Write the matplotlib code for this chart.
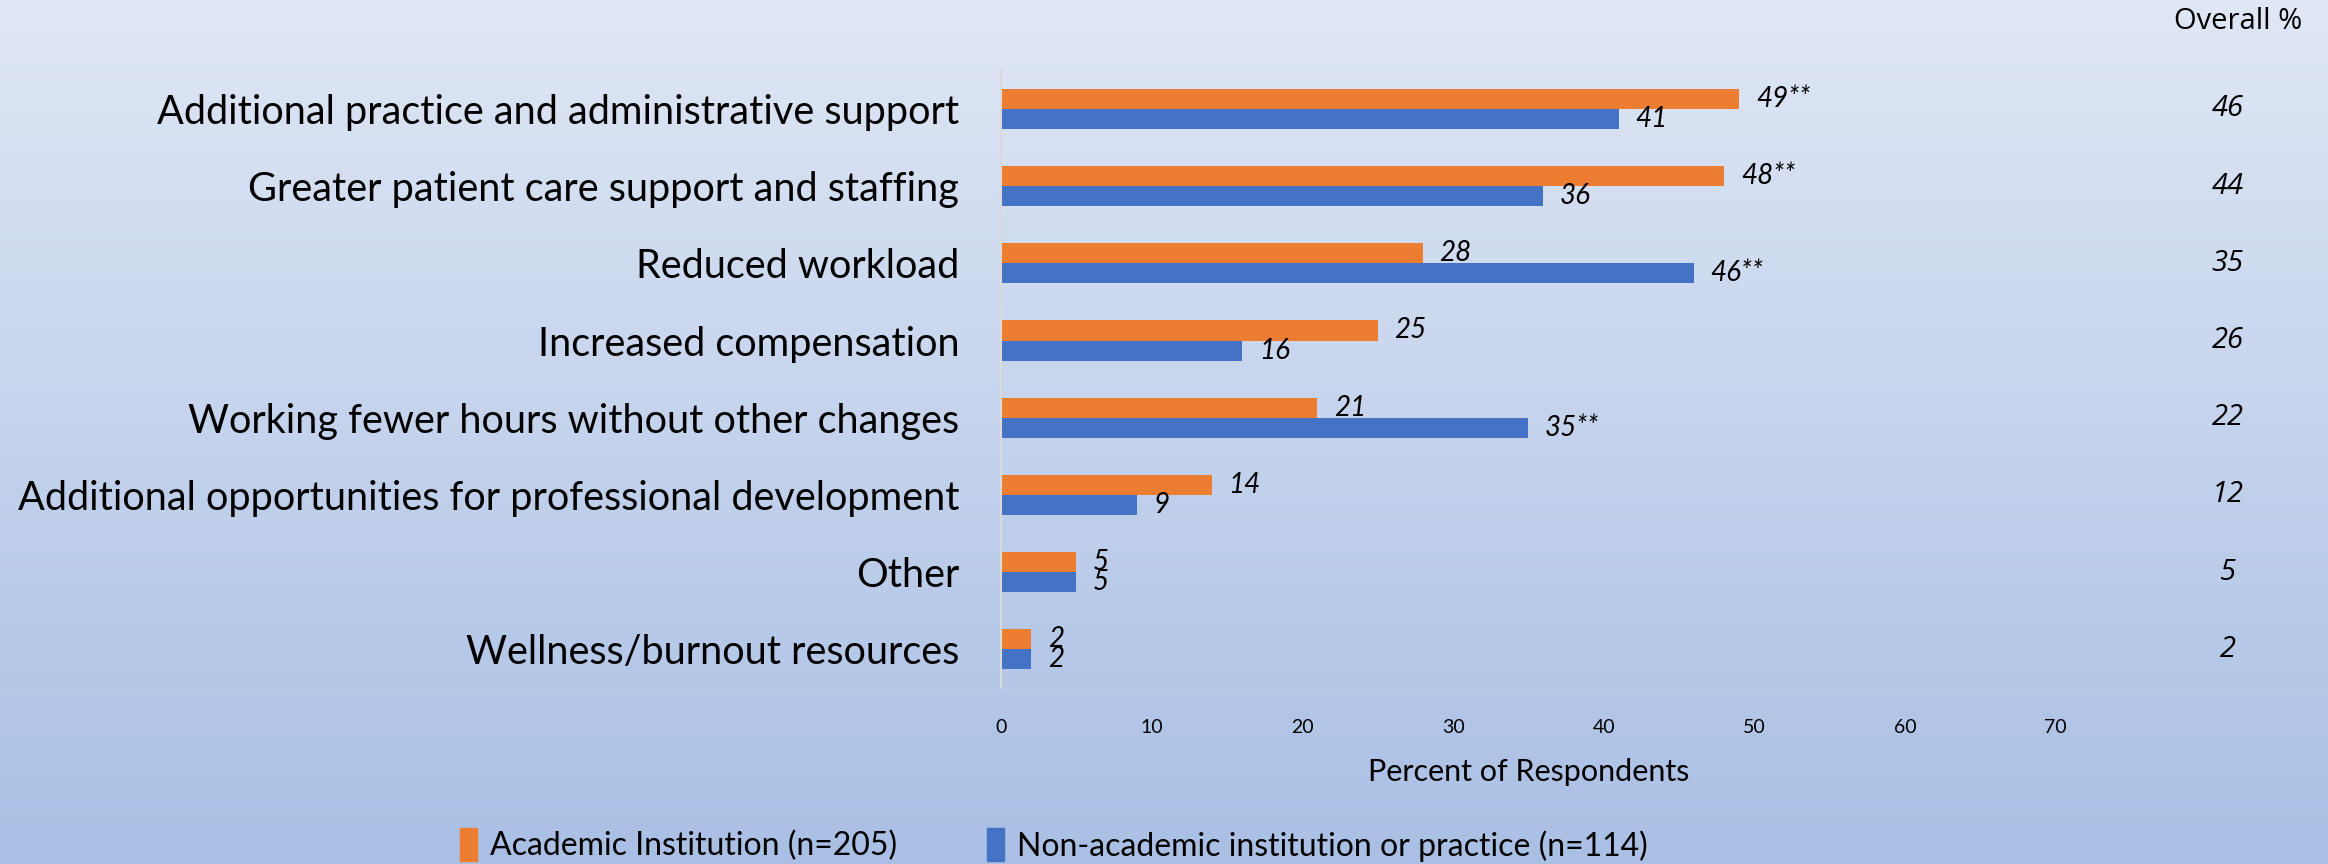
import numpy as np
import matplotlib
matplotlib.use("Agg")
from matplotlib import pyplot as plt
from matplotlib.patches import Patch

categories = [
    "Additional practice and administrative support",
    "Greater patient care support and staffing",
    "Reduced workload",
    "Increased compensation",
    "Working fewer hours without other changes",
    "Additional opportunities for professional development",
    "Other",
    "Wellness/burnout resources",
]
academic = [49, 48, 28, 25, 21, 14, 5, 2]
academic_labels = ["49**", "48**", "28", "25", "21", "14", "5", "2"]
nonacademic = [41, 36, 46, 16, 35, 9, 5, 2]
nonacademic_labels = ["41", "36", "46**", "16", "35**", "9", "5", "2"]
overall = [46, 44, 35, 26, 22, 12, 5, 2]
xticks = [0, 10, 20, 30, 40, 50, 60, 70]

orange = "#ED7D31"
blue = "#4472C4"
font = "Lato"

fig = plt.figure(figsize=(23.28, 8.64), dpi=100)

# gradient background
bg = fig.add_axes([0, 0, 1, 1], zorder=-10)
top = np.array([224, 231, 245]) / 255
bot = np.array([169, 191, 228]) / 255
t = np.linspace(0, 1, 256)[:, None]
grad = top[None, :] * (1 - t) + bot[None, :] * t
bg.imshow(grad[:, None, :], aspect="auto", extent=[0, 1, 0, 1])
bg.axis("off")

ax = fig.add_axes([0.430, 0.2037, 0.453, 0.715])
ax.patch.set_alpha(0)

y = np.arange(len(categories))
h = 0.26
ax.barh(y - h / 2, academic, height=h, color=orange)
ax.barh(y + h / 2, nonacademic, height=h, color=blue)

for yi, v, lab in zip(y, academic, academic_labels):
    ax.annotate(lab, (v, yi - h / 2), xytext=(12, 0), textcoords="offset points",
                va="center", ha="left", fontsize=20, style="italic", family=font)
for yi, v, lab in zip(y, nonacademic, nonacademic_labels):
    ax.annotate(lab, (v, yi + h / 2), xytext=(12, 0), textcoords="offset points",
                va="center", ha="left", fontsize=20, style="italic", family=font)

# overall % column
for yi, v in zip(y, overall):
    ax.text(1.163, yi, str(v), transform=ax.get_yaxis_transform(),
            ha="center", va="center", fontsize=21, style="italic", family="Open Sans")
fig.text(0.989, 0.975, "Overall %", ha="right", va="center", fontsize=21, family="Open Sans")

ax.set_ylim(len(categories) - 0.5, -0.5)
ax.set_xlim(0, 70)
ax.set_xticks(xticks)
ax.set_yticks(y)
ax.set_yticklabels(categories, fontsize=28.5, family=font)
ax.tick_params(axis="y", length=0, pad=30)
ax.tick_params(axis="x", length=0, pad=22, labelsize=14)
for lab in ax.get_xticklabels():
    lab.set_family(font)

for s in ["top", "right", "bottom"]:
    ax.spines[s].set_visible(False)
ax.spines["left"].set_color("#d9d9d9")
ax.spines["left"].set_linewidth(1.5)

ax.set_xlabel("Percent of Respondents", fontsize=22, family=font, labelpad=16)

handles = [Patch(color=orange, label="Academic Institution (n=205)"),
           Patch(color=blue, label="Non-academic institution or practice (n=114)")]
fig.legend(handles=handles, loc="center", bbox_to_anchor=(0.4527, 0.022), ncol=2,
           frameon=False, prop={"family": font, "size": 23},
           handlelength=0.55, handleheight=1.2, handletextpad=0.4, columnspacing=2.8)

fig.savefig("out.png", dpi=100)
